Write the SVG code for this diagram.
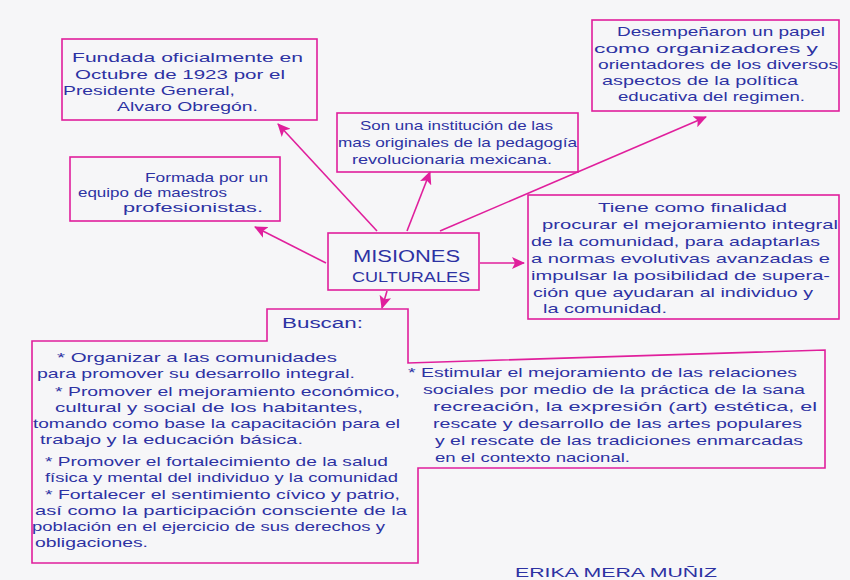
<svg xmlns="http://www.w3.org/2000/svg" width="850" height="580" viewBox="0 0 850 580">
<defs>
<marker id="ah" markerWidth="14" markerHeight="12" refX="12" refY="6" orient="auto" markerUnits="userSpaceOnUse">
<path d="M0,0 L13,6 L0,12 L3,6 Z" fill="#e01f9c"/>
</marker>
</defs>
<style>
.box{fill:none;stroke:#e01f9c;stroke-width:1.6}
.con{fill:none;stroke:#e01f9c;stroke-width:1.6}
text{font-family:"Liberation Sans","DejaVu Sans",sans-serif;fill:#2d32a3;font-size:13px}
.big{font-size:16px}
.mid{font-size:14px}
.sig{font-size:13px}
</style>
<rect width="850" height="580" fill="#f6f6f8"/>

<g id="connectors">
<line class="con" x1="377" y1="231" x2="278" y2="124" marker-end="url(#ah)"/>
<line class="con" x1="407" y1="231" x2="430" y2="172" marker-end="url(#ah)"/>
<line class="con" x1="440" y1="231" x2="706" y2="117" marker-end="url(#ah)"/>
<line class="con" x1="326" y1="263" x2="255" y2="227" marker-end="url(#ah)"/>
<line class="con" x1="480" y1="263" x2="524" y2="263" marker-end="url(#ah)"/>
<line class="con" x1="387" y1="291" x2="382" y2="308" marker-end="url(#ah)"/>
</g>

<g id="fundada">
<rect class="box" x="62" y="39" width="255" height="81"/>
<text x="72" y="62" textLength="231" lengthAdjust="spacingAndGlyphs">Fundada oficialmente en</text>
<text x="75" y="79" textLength="210" lengthAdjust="spacingAndGlyphs">Octubre de 1923 por el</text>
<text x="63" y="95" textLength="172" lengthAdjust="spacingAndGlyphs">Presidente General,</text>
<text x="117" y="111" textLength="141" lengthAdjust="spacingAndGlyphs">Alvaro Obregón.</text>
</g>

<g id="institucion">
<rect class="box" x="337" y="113" width="241" height="59"/>
<text x="360" y="130" textLength="193" lengthAdjust="spacingAndGlyphs">Son una institución de las</text>
<text x="338" y="147" textLength="239" lengthAdjust="spacingAndGlyphs">mas originales de la pedagogía</text>
<text x="352" y="164" textLength="200" lengthAdjust="spacingAndGlyphs">revolucionaria mexicana.</text>
</g>

<g id="desempenaron">
<rect class="box" x="592" y="20" width="247" height="91"/>
<text x="617" y="36" textLength="208" lengthAdjust="spacingAndGlyphs">Desempeñaron un papel</text>
<text x="594" y="53" textLength="224" lengthAdjust="spacingAndGlyphs">como organizadores y</text>
<text x="598" y="69" textLength="240" lengthAdjust="spacingAndGlyphs">orientadores de los diversos</text>
<text x="602" y="85" textLength="196" lengthAdjust="spacingAndGlyphs">aspectos de la política</text>
<text x="618" y="101" textLength="187" lengthAdjust="spacingAndGlyphs">educativa del regimen.</text>
</g>

<g id="formada">
<rect class="box" x="70" y="157" width="210" height="64"/>
<text x="145" y="182" textLength="123" lengthAdjust="spacingAndGlyphs">Formada por un</text>
<text x="78" y="197" textLength="149" lengthAdjust="spacingAndGlyphs">equipo de maestros</text>
<text x="123" y="212" textLength="140" lengthAdjust="spacingAndGlyphs">profesionistas.</text>
</g>

<g id="finalidad">
<rect class="box" x="528" y="195" width="311" height="124"/>
<text x="598" y="212" textLength="189" lengthAdjust="spacingAndGlyphs">Tiene como finalidad</text>
<text x="542" y="229" textLength="296" lengthAdjust="spacingAndGlyphs">procurar el mejoramiento integral</text>
<text x="531" y="246" textLength="289" lengthAdjust="spacingAndGlyphs">de la comunidad, para adaptarlas</text>
<text x="531" y="263" textLength="299" lengthAdjust="spacingAndGlyphs">a normas evolutivas avanzadas e</text>
<text x="531" y="280" textLength="299" lengthAdjust="spacingAndGlyphs">impulsar la posibilidad de supera-</text>
<text x="533" y="297" textLength="280" lengthAdjust="spacingAndGlyphs">ción que ayudaran al individuo y</text>
<text x="543" y="313" textLength="124" lengthAdjust="spacingAndGlyphs">la comunidad.</text>
</g>

<g id="misiones">
<rect class="box" x="328" y="233" width="151" height="57"/>
<text class="big" x="353" y="262" textLength="107" lengthAdjust="spacingAndGlyphs">MISIONES</text>
<text class="mid" x="352" y="282" textLength="118" lengthAdjust="spacingAndGlyphs">CULTURALES</text>
</g>

<g id="buscan">
<path class="box" d="M32,341 L267,341 L267,309 L408,309 L408,363 L825,350 L825,468 L418,468 L418,563 L32,563 Z"/>
<text class="mid" x="282" y="328" textLength="81" lengthAdjust="spacingAndGlyphs">Buscan:</text>
<text x="57" y="362" textLength="280" lengthAdjust="spacingAndGlyphs">* Organizar a las comunidades</text>
<text x="37" y="378" textLength="318" lengthAdjust="spacingAndGlyphs">para promover su desarrollo integral.</text>
<text x="55" y="396" textLength="345" lengthAdjust="spacingAndGlyphs">* Promover el mejoramiento económico,</text>
<text x="55" y="412" textLength="308" lengthAdjust="spacingAndGlyphs">cultural y social de los habitantes,</text>
<text x="33" y="428" textLength="367" lengthAdjust="spacingAndGlyphs">tomando como base la capacitación para el</text>
<text x="40" y="444" textLength="263" lengthAdjust="spacingAndGlyphs">trabajo y la educación básica.</text>
<text x="45" y="466" textLength="343" lengthAdjust="spacingAndGlyphs">* Promover el fortalecimiento de la salud</text>
<text x="45" y="482" textLength="353" lengthAdjust="spacingAndGlyphs">física y mental del individuo y la comunidad</text>
<text x="45" y="499" textLength="355" lengthAdjust="spacingAndGlyphs">* Fortalecer el sentimiento cívico y patrio,</text>
<text x="35" y="515" textLength="372" lengthAdjust="spacingAndGlyphs">así como la participación consciente de la</text>
<text x="32" y="531" textLength="353" lengthAdjust="spacingAndGlyphs">población en el ejercicio de sus derechos y</text>
<text x="35" y="547" textLength="113" lengthAdjust="spacingAndGlyphs">obligaciones.</text>
<text x="408" y="377" textLength="389" lengthAdjust="spacingAndGlyphs">* Estimular el mejoramiento de las relaciones</text>
<text x="423" y="394" textLength="382" lengthAdjust="spacingAndGlyphs">sociales por medio de la práctica de la sana</text>
<text x="433" y="411" textLength="384" lengthAdjust="spacingAndGlyphs">recreación, la expresión (art) estética, el</text>
<text x="433" y="428" textLength="369" lengthAdjust="spacingAndGlyphs">rescate y desarrollo de las artes populares</text>
<text x="435" y="445" textLength="368" lengthAdjust="spacingAndGlyphs">y el rescate de las tradiciones enmarcadas</text>
<text x="435" y="462" textLength="195" lengthAdjust="spacingAndGlyphs">en el contexto nacional.</text>
</g>

<text class="sig" x="515" y="577" textLength="202" lengthAdjust="spacingAndGlyphs">ERIKA MERA MUÑIZ</text>
</svg>
